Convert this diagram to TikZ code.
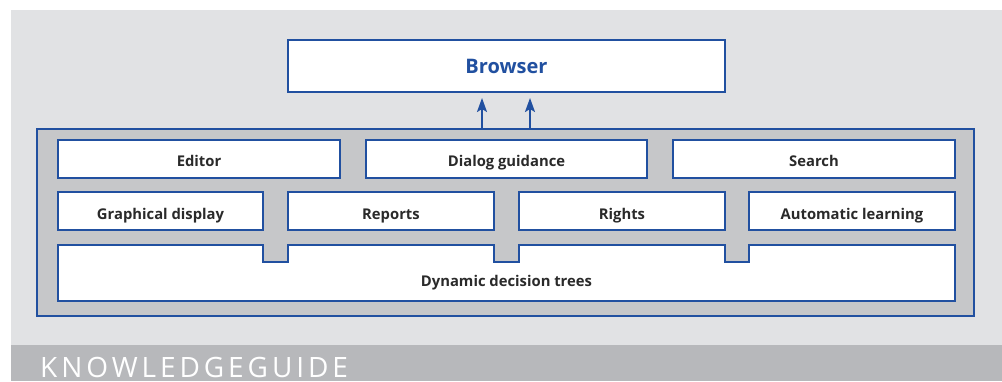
\documentclass[tikz,border=0pt]{standalone}
\usepackage{fontspec}
\setmainfont{Open Sans}
\usetikzlibrary{arrows.meta}
\definecolor{kgblue}{HTML}{2150A0}
\definecolor{bglight}{HTML}{E1E2E4}
\definecolor{framegray}{HTML}{C6C7C9}
\definecolor{bargray}{HTML}{B7B8BB}
\definecolor{txtdark}{HTML}{2A2A2A}
\tikzset{
  modbox/.style={draw=kgblue, line width=2.2pt, fill=white, inner sep=0pt, outer sep=0pt},
  modlabel/.style={text=txtdark, font=\fontsize{14.8}{16}\selectfont\bfseries, inner sep=0pt, anchor=base},
  uparrow/.style={draw=kgblue, line width=2pt, -{Stealth[length=14pt,width=10pt,inset=3pt]}}
}
\begin{document}
\begin{tikzpicture}[x=1pt,y=-1pt]
\useasboundingbox (0,0) rectangle (1002,381);
% backgrounds
\fill[bglight] (11,10) rectangle (1002,345);
\fill[bargray] (11,345) rectangle (1002,381);
\node[anchor=base west, text=white, inner sep=0pt,
  font=\fontsize{28}{30}\selectfont\addfontfeature{LetterSpace=14}] (kg) at (40,377) {KNOWLEDGEGUIDE};
% browser
\node[modbox, minimum width=437pt, minimum height=52pt, anchor=north west] (browser) at (288,40) {};
\node[text=kgblue, font=\fontsize{20}{22}\selectfont\bfseries, inner sep=0pt, anchor=base] (browsertxt) at (506.5,73) {Browser};
% outer frame
\node[draw=kgblue, line width=2pt, fill=framegray, minimum width=937pt, minimum height=187pt,
  anchor=north west, inner sep=0pt, outer sep=0pt] (frame) at (37,129) {};
% arrows
\coordinate (a1) at (482,129);
\coordinate (a2) at (530,129);
\draw[uparrow] (a1) -- (a1 |- browser.south) [shorten >=6pt];
\draw[uparrow] (a2) -- (a2 |- browser.south) [shorten >=6pt];
% row 1
\node[modbox, minimum width=282pt, minimum height=38pt, anchor=north west] (editor) at (58,140) {};
\node[modbox, minimum width=281pt, minimum height=38pt, anchor=north west] (dialog) at (366,140) {};
\node[modbox, minimum width=282pt, minimum height=38pt, anchor=north west] (search) at (673,140) {};
\node[modlabel] at ([yshift=-7pt]editor.center) {Editor};
\node[modlabel] at ([yshift=-7pt]dialog.center) {Dialog guidance};
\node[modlabel] at ([yshift=-7pt]search.center) {Search};
% row 2
\node[modbox, minimum width=205pt, minimum height=38pt, anchor=north west] (graph) at (58,192) {};
\node[modbox, minimum width=206pt, minimum height=38pt, anchor=north west] (reports) at (288,192) {};
\node[modbox, minimum width=206pt, minimum height=38pt, anchor=north west] (rights) at (519,192) {};
\node[modbox, minimum width=206pt, minimum height=38pt, anchor=north west] (autolearn) at (749,192) {};
\node[modlabel] at ([yshift=-8.5pt]graph.center) {Graphical display};
\node[modlabel] at ([yshift=-8.5pt]reports.center) {Reports};
\node[modlabel] at ([yshift=-8.5pt]rights.center) {Rights};
\node[modlabel] at ([yshift=-8.5pt]autolearn.center) {Automatic learning};
% dynamic decision trees
\draw[draw=kgblue, line width=2.2pt, fill=white, line join=miter]
  (58,245) -- (263,245) -- (263,262) -- (288,262) -- (288,245)
  -- (494,245) -- (494,262) -- (519,262) -- (519,245)
  -- (725,245) -- (725,262) -- (749,262) -- (749,245)
  -- (955,245) -- (955,301) -- (58,301) -- cycle;
\node[modlabel] (dyn) at (506.5,286) {Dynamic decision trees};
\end{tikzpicture}
\end{document}
